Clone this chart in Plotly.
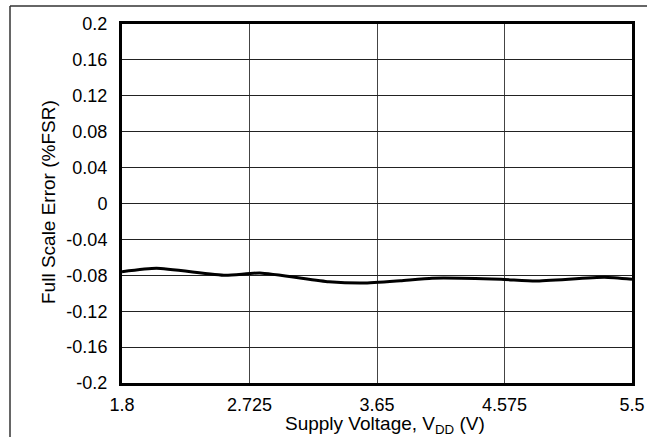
import plotly.graph_objects as go

# Data
voltage = [1.8, 2.05, 2.55, 2.8, 3.3, 3.55, 3.82, 4.05, 4.55, 4.8, 5.3, 5.5]
fs_error = [-0.0760, -0.0722, -0.0800, -0.0774, -0.0871, -0.0886, -0.0860, -0.0833, -0.0845, -0.0864, -0.0822, -0.0845]

x_ticks = [1.8, 2.725, 3.65, 4.575, 5.5]
x_ticktext = ["1.8", "2.725", "3.65", "4.575", "5.5"]
y_ticks = [0.2, 0.16, 0.12, 0.08, 0.04, 0, -0.04, -0.08, -0.12, -0.16, -0.2]
y_ticktext = ["0.2", "0.16", "0.12", "0.08", "0.04", "0", "-0.04", "-0.08", "-0.12", "-0.16", "-0.2"]

W, H = 647, 437
ML, MR, MT, MB = 122, 15, 24, 54
PW, PH = W - ML - MR, H - MT - MB

def px(xp):
    return (xp - ML) / PW

def py(yp):
    return 1 - (yp - MT) / PH

FONT = "Liberation Sans, Arial, sans-serif"

fig = go.Figure()
fig.add_trace(go.Scatter(
    x=voltage, y=fs_error, mode="lines",
    line=dict(color="black", width=3, shape="spline", smoothing=0.5),
    hoverinfo="skip", showlegend=False,
))

fig.update_layout(
    width=W, height=H,
    margin=dict(l=ML, r=MR, t=MT, b=MB, pad=0, autoexpand=False),
    paper_bgcolor="white", plot_bgcolor="white",
    font=dict(family=FONT, size=18, color="black"),
    xaxis=dict(
        range=[1.8, 5.5], tickvals=x_ticks, ticktext=x_ticktext,
        showgrid=True, gridcolor="#444", gridwidth=1,
        showline=True, linecolor="black", linewidth=3, mirror=True,
        ticks="", ticklabelstandoff=3, zeroline=False, automargin=False,
        tickfont=dict(size=18, family=FONT),
    ),
    yaxis=dict(
        range=[-0.2, 0.2], tickvals=y_ticks, ticktext=y_ticktext,
        showgrid=True, gridcolor="#222", gridwidth=1,
        showline=True, linecolor="black", linewidth=3, mirror=True,
        ticks="", ticklabelstandoff=8, zeroline=False, automargin=False,
        tickfont=dict(size=18, family=FONT),
    ),
    shapes=[
        dict(type="line", xref="paper", yref="paper",
             x0=px(10), x1=px(W + 5), y0=py(6), y1=py(6),
             line=dict(color="#333", width=1.5)),
        dict(type="line", xref="paper", yref="paper",
             x0=px(10), x1=px(10), y0=py(6), y1=py(H + 5),
             line=dict(color="#333", width=1.5)),
    ],
    annotations=[
        dict(text="Full Scale Error (%FSR)", xref="paper", yref="paper",
             x=px(48), y=py(202), textangle=-90, showarrow=False,
             xanchor="center", yanchor="middle",
             font=dict(size=19, family=FONT, color="black")),
        dict(text="Supply Voltage, V<sub>DD</sub> (V)", xref="paper", yref="paper",
             x=px(385), y=py(425), showarrow=False,
             xanchor="center", yanchor="middle",
             font=dict(size=19, family=FONT, color="black")),
    ],
)

fig.write_html("out.html")
